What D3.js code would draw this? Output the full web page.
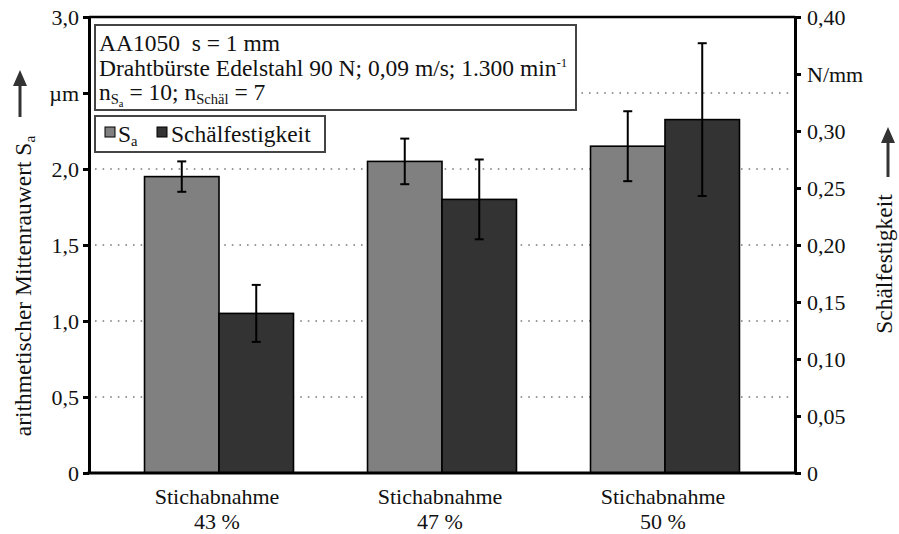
<!DOCTYPE html>
<html>
<head>
<meta charset="utf-8">
<script src="https://cdn.jsdelivr.net/npm/d3@7/dist/d3.min.js"></script>
<style>
  html, body { margin: 0; padding: 0; background: #fff; }
  svg text { font-family: "Liberation Serif", Tinos, "Times New Roman", Times, serif !important; fill: #111; }
</style>
</head>
<body>
<svg id="chart" width="899" height="534"></svg>
<script>
// Categories (two-line labels)
const categories = ["43 %", "47 %", "50 %"];
const categoryPrefix = "Stichabnahme";

// Arithmetic mean roughness Sa (µm) with standard deviation
const saValues = [1.95, 2.05, 2.15];
const saErrors = [0.10, 0.15, 0.23];

// Peel strength (N/mm) with standard deviation
const peelValues = [0.14, 0.24, 0.31];
const peelErrors = [0.025, 0.035, 0.067];

// Axis ticks and their labels
const leftTicks = [0, 0.5, 1.0, 1.5, 2.0, 2.5, 3.0];
const leftTickLabels = ["0", "0,5", "1,0", "1,5", "2,0", "µm", "3,0"];
const rightTicks = [0, 0.05, 0.10, 0.15, 0.20, 0.25, 0.30, 0.35, 0.40];
const rightTickLabels = ["0", "0,05", "0,10", "0,15", "0,20", "0,25", "0,30", "N/mm", "0,40"];
const gridTicks = [0.5, 1.0, 1.5, 2.0, 2.5];

const colors = { sa: "#808080", peel: "#333333" };

const svg = d3.select("#chart");
const plot = { left: 89, right: 795, top: 17, bottom: 473 };
const FS_TICK = 22;
const FS = 23.5;
const FS_CAT = 22;
const FONT = "Liberation Serif, Tinos, Times New Roman, Times, serif";

const yLeft = d3.scaleLinear().domain([0, 3]).range([plot.bottom, plot.top]);
const yRight = d3.scaleLinear().domain([0, 0.4]).range([plot.bottom, plot.top]);

const x = d3.scaleBand().domain(categories).range([plot.left, plot.right])
  .paddingInner(0.332).paddingOuter(0.249);
const xSub = d3.scaleBand().domain(["sa", "peel"]).range([0, x.bandwidth()]);

// Dotted gridlines
svg.append("g").selectAll("line").data(gridTicks).join("line")
  .attr("x1", plot.left + 6).attr("x2", plot.right - 4)
  .attr("y1", d => yLeft(d)).attr("y2", d => yLeft(d))
  .attr("stroke", "#7a7a7a").attr("stroke-width", 1.6)
  .attr("stroke-dasharray", "1.6,6");

// Bars
const groups = svg.append("g").selectAll("g").data(categories).join("g")
  .attr("transform", d => `translate(${x(d)},0)`);

groups.append("rect")
  .attr("x", xSub("sa")).attr("width", xSub.bandwidth())
  .attr("y", (d, i) => yLeft(saValues[i]))
  .attr("height", (d, i) => yLeft(0) - yLeft(saValues[i]))
  .attr("fill", colors.sa).attr("stroke", "#000").attr("stroke-width", 1.6);

groups.append("rect")
  .attr("x", xSub("peel")).attr("width", xSub.bandwidth())
  .attr("y", (d, i) => yRight(peelValues[i]))
  .attr("height", (d, i) => yRight(0) - yRight(peelValues[i]))
  .attr("fill", colors.peel).attr("stroke", "#000").attr("stroke-width", 1.6);

// Error bars
function errorBar(g, cx, yTop, yBot) {
  const cap = 4.5;
  g.append("line").attr("x1", cx).attr("x2", cx).attr("y1", yTop).attr("y2", yBot);
  g.append("line").attr("x1", cx - cap).attr("x2", cx + cap).attr("y1", yTop).attr("y2", yTop);
  g.append("line").attr("x1", cx - cap).attr("x2", cx + cap).attr("y1", yBot).attr("y2", yBot);
}
const errG = svg.append("g").attr("stroke", "#000").attr("stroke-width", 2);
categories.forEach((c, i) => {
  const cxSa = x(c) + xSub("sa") + xSub.bandwidth() / 2;
  const cxPeel = x(c) + xSub("peel") + xSub.bandwidth() / 2;
  errorBar(errG, cxSa, yLeft(saValues[i] + saErrors[i]), yLeft(saValues[i] - saErrors[i]));
  errorBar(errG, cxPeel, yRight(peelValues[i] + peelErrors[i]), yRight(peelValues[i] - peelErrors[i]));
});

// Frame: top and bottom lines
svg.append("line").attr("x1", plot.left).attr("x2", plot.right)
  .attr("y1", plot.top).attr("y2", plot.top).attr("stroke", "#000").attr("stroke-width", 2.5);
svg.append("line").attr("x1", plot.left - 1.5).attr("x2", plot.right + 1.5)
  .attr("y1", plot.bottom).attr("y2", plot.bottom).attr("stroke", "#000").attr("stroke-width", 3);

// Left axis
const axL = svg.append("g").attr("transform", `translate(${plot.left},0)`)
  .call(d3.axisLeft(yLeft).tickValues(leftTicks).tickSizeInner(6).tickSizeOuter(0).tickPadding(4)
    .tickFormat((d, i) => leftTickLabels[i]));
axL.attr("font-family", FONT);
axL.select(".domain").attr("stroke", "#000").attr("stroke-width", 3);
axL.selectAll(".tick line").attr("stroke", "#000").attr("stroke-width", 3);
axL.selectAll(".tick text").attr("font-size", FS_TICK).attr("fill", "#111");

// Right axis
const axR = svg.append("g").attr("transform", `translate(${plot.right},0)`)
  .call(d3.axisRight(yRight).tickValues(rightTicks).tickSizeInner(6).tickSizeOuter(0).tickPadding(6)
    .tickFormat((d, i) => rightTickLabels[i]));
axR.attr("font-family", FONT);
axR.select(".domain").attr("stroke", "#000").attr("stroke-width", 3);
axR.selectAll(".tick line").attr("stroke", "#000").attr("stroke-width", 3);
axR.selectAll(".tick text").attr("font-size", FS_TICK).attr("fill", "#111");

// Category labels, centred under each bar pair
const catG = svg.append("g").attr("text-anchor", "middle").attr("font-size", FS_CAT);
categories.forEach(c => {
  const cx = x(c) + x.bandwidth() / 2 - 2;
  catG.append("text").attr("x", cx).attr("y", 504).text(categoryPrefix);
  catG.append("text").attr("x", cx).attr("y", 529).text(c);
});

// Axis titles with arrows
function arrow(cx, tipY, baseY) {
  svg.append("line").attr("x1", cx).attr("x2", cx).attr("y1", tipY + 12).attr("y2", baseY)
    .attr("stroke", "#333").attr("stroke-width", 3);
  svg.append("path").attr("d", `M${cx},${tipY} L${cx - 7},${tipY + 16} L${cx + 7},${tipY + 16} Z`)
    .attr("fill", "#333");
}
arrow(20, 70, 117);
const lt = svg.append("text").attr("transform", "translate(31,286) rotate(-90)")
  .attr("text-anchor", "middle").attr("font-size", FS);
lt.append("tspan").text("arithmetischer Mittenrauwert S");
lt.append("tspan").attr("font-size", FS * 0.65).attr("dy", 4).text("a");

arrow(888, 127, 177);
svg.append("text").attr("transform", "translate(892,264) rotate(-90)")
  .attr("text-anchor", "middle").attr("font-size", FS).text("Schälfestigkeit");

// Info box
svg.append("rect").attr("x", 95).attr("y", 25).attr("width", 481).attr("height", 85)
  .attr("fill", "#fff").attr("stroke", "#444").attr("stroke-width", 2);
const info = svg.append("g").attr("font-size", FS);
info.append("text").attr("x", 99).attr("y", 51).attr("xml:space", "preserve").text("AA1050  s = 1 mm");
const l2 = info.append("text").attr("x", 99).attr("y", 76);
l2.append("tspan").text("Drahtbürste Edelstahl 90 N; 0,09 m/s; 1.300 min");
l2.append("tspan").attr("font-size", FS * 0.55).attr("dy", -9).text("-1");
const l3 = info.append("text").attr("x", 99).attr("y", 100);
l3.append("tspan").text("n");
l3.append("tspan").attr("font-size", FS * 0.62).attr("dy", 4).text("S");
l3.append("tspan").attr("font-size", FS * 0.45).attr("dy", 3).text("a");
l3.append("tspan").attr("dy", -7).text(" = 10; n");
l3.append("tspan").attr("font-size", FS * 0.62).attr("dy", 4).text("Schäl");
l3.append("tspan").attr("dy", -4).text(" = 7");

// Legend
svg.append("rect").attr("x", 95).attr("y", 116).attr("width", 230).attr("height", 36)
  .attr("fill", "#fff").attr("stroke", "#444").attr("stroke-width", 2);
svg.append("rect").attr("x", 105).attr("y", 127).attr("width", 10).attr("height", 10)
  .attr("fill", colors.sa).attr("stroke", "#000").attr("stroke-width", 1);
const lg1 = svg.append("text").attr("x", 118).attr("y", 142).attr("font-size", FS);
lg1.append("tspan").text("S");
lg1.append("tspan").attr("font-size", FS * 0.62).attr("dy", 4).text("a");
svg.append("rect").attr("x", 157).attr("y", 127).attr("width", 10).attr("height", 10)
  .attr("fill", colors.peel).attr("stroke", "#000").attr("stroke-width", 1);
svg.append("text").attr("x", 171).attr("y", 142).attr("font-size", FS).text("Schälfestigkeit");
</script>
</body>
</html>
